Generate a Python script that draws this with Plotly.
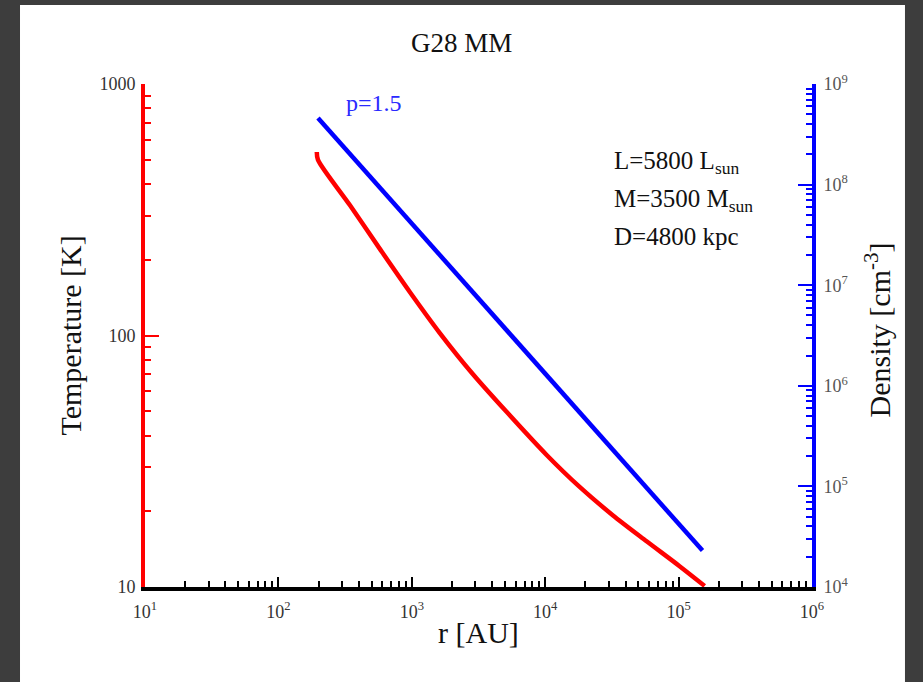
import plotly.graph_objects as go

# ---- data ----
r_temp = [194, 198, 343, 576, 966, 1622, 2864, 5152, 10250, 18120, 32060, 57540,
          101700, 156700]
temperature = [537, 499, 330, 221, 149, 102.3, 70.3, 49.6, 33.5, 25.0, 19.3, 15.2,
               12.1, 10.1]

r_dens = [198, 151000]
density = [4.6e8, 2.3e4]

x_tickvals = [1e1, 1e2, 1e3, 1e4, 1e5, 1e6]
x_ticktext = ["10<sup>1</sup>", "10<sup>2</sup>", "10<sup>3</sup>",
              "10<sup>4</sup>", "10<sup>5</sup>", "10<sup>6</sup>"]
t_tickvals = [10, 100, 1000]
t_ticktext = ["10", "100", "1000"]
n_tickvals = [1e4, 1e5, 1e6, 1e7, 1e8, 1e9]
n_ticktext = ["10<sup>4</sup>", "10<sup>5</sup>", "10<sup>6</sup>",
              "10<sup>7</sup>", "10<sup>8</sup>", "10<sup>9</sup>"]


def minor_vals(decades):
    return [m * 10 ** d for d in decades for m in range(2, 10)]


FONT = "Liberation Serif"
RED = "#ff0000"
BLUE = "#0000ff"

fig = go.Figure()
fig.add_trace(go.Scatter(x=r_temp, y=temperature, mode="lines",
                         line=dict(color=RED, width=4.5, shape="spline", smoothing=0.8),
                         yaxis="y", hoverinfo="skip"))
fig.add_trace(go.Scatter(x=r_dens, y=density, mode="lines",
                         line=dict(color=BLUE, width=4.5),
                         yaxis="y2", hoverinfo="skip"))

tickfont = dict(family=FONT, size=18, color="#333333")

fig.update_layout(
    width=923, height=682, autosize=False,
    margin=dict(l=145, r=111, t=84, b=95, pad=0),
    paper_bgcolor="#3d3d3d", plot_bgcolor="white",
    showlegend=False,
    font=dict(family=FONT, color="#222222"),
    xaxis=dict(type="log", range=[1, 6], showgrid=False, zeroline=False,
               showline=True, linecolor="black", linewidth=4,
               ticks="inside", ticklen=10, tickwidth=1.5, tickcolor="black",
               tickmode="array", tickvals=x_tickvals, ticktext=x_ticktext,
               tickfont=tickfont, ticklabelstandoff=5,
               minor=dict(tickmode="array", tickvals=minor_vals(range(1, 6)),
                          ticks="inside", ticklen=6, tickwidth=1.5,
                          tickcolor="black", showgrid=False)),
    yaxis=dict(type="log", range=[1, 3], showgrid=False, zeroline=False,
               showline=True, linecolor=RED, linewidth=4,
               ticks="inside", ticklen=14, tickwidth=1.5, tickcolor=RED,
               tickmode="array", tickvals=t_tickvals, ticktext=t_ticktext,
               tickfont=tickfont, ticklabelstandoff=2,
               minor=dict(tickmode="array", tickvals=minor_vals(range(1, 3)),
                          ticks="inside", ticklen=6, tickwidth=1.5,
                          tickcolor=RED, showgrid=False)),
    yaxis2=dict(type="log", range=[4, 9], overlaying="y", side="right",
                showgrid=False, zeroline=False,
                showline=True, linecolor=BLUE, linewidth=4,
                ticks="inside", ticklen=14, tickwidth=1.5, tickcolor=BLUE,
                tickmode="array", tickvals=n_tickvals, ticktext=n_ticktext,
                tickfont=dict(family=FONT, size=18, color="#555555"),
                ticklabelstandoff=4,
                minor=dict(tickmode="array", tickvals=minor_vals(range(4, 9)),
                           ticks="inside", ticklen=6, tickwidth=1.5,
                           tickcolor=BLUE, showgrid=False)),
    shapes=[dict(type="rect", xref="paper", yref="paper",
                 x0=-0.1874, x1=1.1394, y0=-0.3, y1=1.157,
                 fillcolor="white", line=dict(width=0), layer="below")],
)

ann = [
    dict(text="G28 MM", x=0.475, y=1.0815, size=27, color="#111111", xanchor="center", angle=0),
    dict(text="r [AU]", x=0.5, y=-0.0895, size=30, color="#111111", xanchor="center", angle=0),
    dict(text="Temperature [K]", x=-0.1124, y=0.50, size=30, color="#111111", xanchor="center", angle=-90),
    dict(text="Density [cm<sup>-3</sup>]", x=1.099, y=0.51, size=30, color="#111111", xanchor="center", angle=-90),
    dict(text="p=1.5", x=0.343, y=0.962, size=24, color="#2a2aff", xanchor="center", angle=0),
    dict(text="L=5800 L<sub>sun</sub>", x=0.700, y=0.843, size=25, color="#111111", xanchor="left", angle=0),
    dict(text="M=3500 M<sub>sun</sub>", x=0.700, y=0.769, size=25, color="#111111", xanchor="left", angle=0),
    dict(text="D=4800 kpc", x=0.700, y=0.696, size=25, color="#111111", xanchor="left", angle=0),
]
for a in ann:
    fig.add_annotation(text=a["text"], xref="paper", yref="paper", x=a["x"], y=a["y"],
                       xanchor=a["xanchor"], yanchor="middle", showarrow=False,
                       textangle=a["angle"],
                       font=dict(family=FONT, size=a["size"], color=a["color"]))

fig.write_html("out.html")
